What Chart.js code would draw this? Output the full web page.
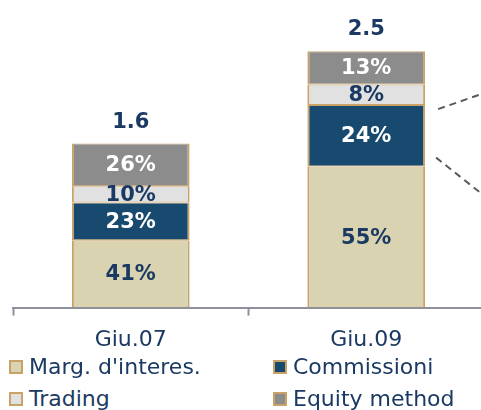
<!DOCTYPE html>
<html>
<head>
<meta charset="utf-8">
<script src="https://cdn.jsdelivr.net/npm/chart.js@4"></script>
<style>
  html, body { margin: 0; padding: 0; background: #fff; overflow: hidden; }
  #wrap { position: relative; width: 481px; height: 410px; overflow: hidden; }
  #myChart { position: absolute; left: 0; top: 0; }
  .leg { position: absolute; font-family: 'DejaVu Sans', sans-serif; font-size: 22px; color: #1b3a63; line-height: 24px; white-space: nowrap; }
  .leg span.box { display: inline-block; width: 10px; height: 10px; border: 2px solid #c9a267; margin-right: 6px; vertical-align: 0px; }
</style>
</head>
<body>
<div id="wrap">
  <canvas id="myChart" width="484" height="364"></canvas>
</div>
<script>
var categories = ['Giu.07', 'Giu.09'];
var totals = [1.6, 2.5];
var seriesNames = ["Marg. d'interes.", 'Commissioni', 'Trading', 'Equity method'];
var margPct = [41, 55];
var commPct = [23, 24];
var tradPct = [10, 8];
var equityPct = [26, 13];

var fills = ['#d9d3b1', '#174a6e', '#e1e1e1', '#8c8c8c'];
var labelColors = ['#1b3a63', '#ffffff', '#1b3a63', '#ffffff'];
var navy = '#1b3a63';
var gold = '#c9a267';
var pcts = [margPct, commPct, tradPct, equityPct];

var datasets = pcts.map(function(p, i) {
  return {
    label: seriesNames[i],
    data: p.map(function(v, j) { return v / 100 * totals[j]; }),
    backgroundColor: fills[i],
    borderColor: gold,
    borderWidth: { left: 2, right: 2, top: 1, bottom: 1 },
    borderSkipped: false,
    categoryPercentage: 1,
    barPercentage: 0.5
  };
});

// percent labels, totals and the dashed callout lines
var labelsPlugin = {
  id: 'labels',
  afterDatasetsDraw: function(chart) {
    var c = chart.ctx;
    c.save();
    c.textAlign = 'center';
    c.textBaseline = 'middle';
    c.font = 'bold 21px "DejaVu Sans"';
    chart.data.datasets.forEach(function(ds, i) {
      chart.getDatasetMeta(i).data.forEach(function(el, j) {
        c.fillStyle = labelColors[i];
        c.fillText(pcts[i][j] + '%', el.x, (el.y + el.base) / 2 + 1);
      });
    });
    var top = chart.getDatasetMeta(3).data;
    c.textBaseline = 'alphabetic';
    c.fillStyle = navy;
    top.forEach(function(el, j) {
      c.fillText(totals[j].toFixed(1), el.x, el.y - 16);
    });
    // callout lines from the Commissioni segment of the last bar
    var seg = chart.getDatasetMeta(1).data[1];
    var x0 = seg.x + seg.width / 2;
    c.strokeStyle = '#5a5a5a';
    c.lineWidth = 2;
    c.setLineDash([7, 5]);
    c.beginPath();
    c.moveTo(x0 + 13, seg.y + 4);
    c.lineTo(chart.width, seg.y - 12);
    c.moveTo(x0 + 11, seg.base - 9);
    c.lineTo(chart.width, seg.base + 29);
    c.stroke();
    c.restore();
  }
};

new Chart('myChart', {
  type: 'bar',
  data: { labels: categories, datasets: datasets },
  plugins: [labelsPlugin],
  options: {
    responsive: false,
    animation: false,
    layout: { padding: { left: 13, right: 0, top: 0, bottom: 0 } },
    plugins: { legend: { display: false }, tooltip: { enabled: false } },
    scales: {
      x: {
        stacked: true,
        grid: { display: true, drawOnChartArea: false, drawTicks: true, tickLength: 8, tickColor: '#8e909e', tickWidth: 2, offset: true },
        border: { display: true, color: '#8e909e', width: 2 },
        ticks: { color: navy, font: { family: 'DejaVu Sans', size: 22 }, padding: 11 }
      },
      y: { stacked: true, display: false, min: 0, max: 3 }
    }
  }
});

// legend in two columns
var legPos = [[9, 355], [273, 355], [9, 387], [273, 387]];
var wrap = document.getElementById('wrap');
seriesNames.forEach(function(name, i) {
  var d = document.createElement('div');
  d.className = 'leg';
  d.style.left = legPos[i][0] + 'px';
  d.style.top = legPos[i][1] + 'px';
  var b = document.createElement('span');
  b.className = 'box';
  b.style.background = fills[i];
  d.appendChild(b);
  d.appendChild(document.createTextNode(name));
  wrap.appendChild(d);
});
</script>
</body>
</html>
